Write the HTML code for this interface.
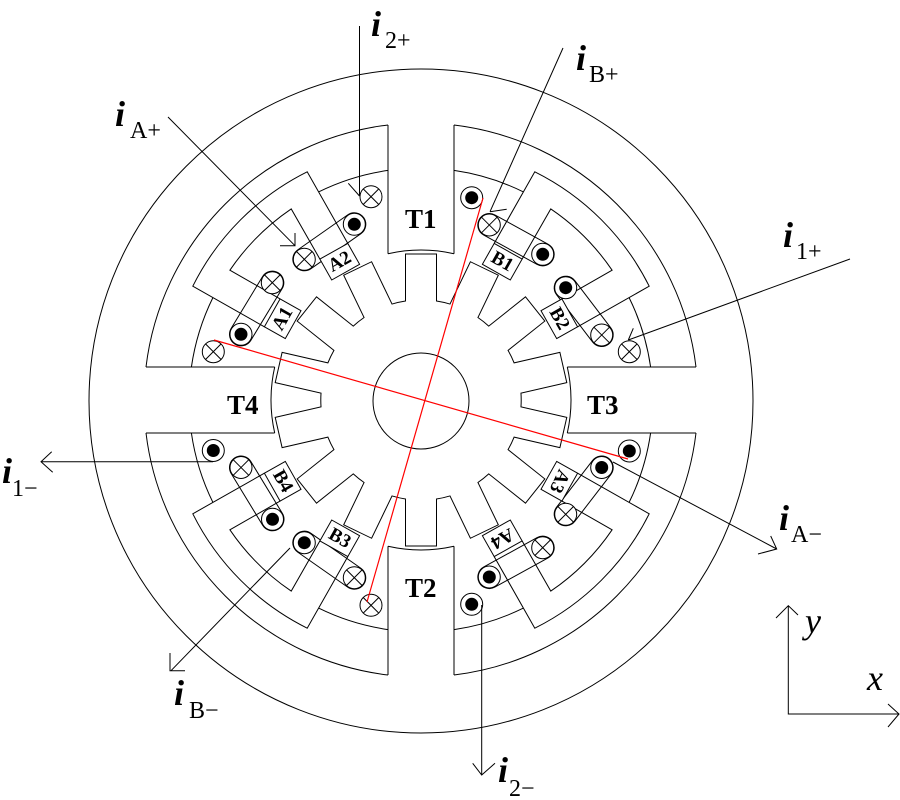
<!DOCTYPE html>
<html><head><meta charset="utf-8"><style>
html,body{margin:0;padding:0;background:#fff;}
svg{display:block;}
</style></head><body>
<svg width="900" height="800" viewBox="0 0 900 800" xmlns="http://www.w3.org/2000/svg">
<defs>
<g id="d"><circle r="11" fill="#fff" stroke="#000"/><circle r="6.5" fill="#000"/></g>
<g id="c"><circle r="11" fill="#fff" stroke="#000"/><path d="M-7.8,-7.8L7.8,7.8M-7.8,7.8L7.8,-7.8" stroke="#000"/></g>
<g id="q">
<path fill="none" d="M388,125 A277,277 0 0 0 146,367 M388,125 L388,253.7 M146,367 L274.7,367 M388,253.7 A150,150 0 0 1 454,253.7 M387.9,170.4 A232,232 0 0 0 318.6,191.9 M212.9,297.6 A232,232 0 0 0 191.4,367 M347.8,243.4 L307.2,171.8 A255,255 0 0 0 192.8,286.2 L264.4,326.8 M319.9,259.1 L291.2,208.9 A231,231 0 0 0 229.9,270.2 L280.1,298.9"/>
<polygon fill="#fff" points="319.9,259.1 347.8,243.4 359.6,264.3 331.7,280"/>
<polygon fill="#fff" points="280.1,298.9 264.4,326.8 285.3,338.6 301,310.7"/>
</g>
</defs>
<rect width="900" height="800" fill="#fff"/>
<g stroke="#000" stroke-width="1" fill="none">
<circle cx="421" cy="401" r="332"/>
<path d="M436.5,301 L436.5,254 L405.5,254 L405.5,301 A100.2,100.2 0 0 0 392.02,304.07 L371.61,261.73 L343.68,275.19 L364.08,317.52 A100.2,100.2 0 0 0 353.26,326.15 L316.51,296.85 L297.18,321.09 L333.93,350.39 A100.2,100.2 0 0 0 327.93,362.86 L282.11,352.40 L275.21,382.62 L321.03,393.08 A100.2,100.2 0 0 0 321.03,406.92 L275.21,417.38 L282.11,447.60 L327.93,437.14 A100.2,100.2 0 0 0 333.94,449.61 L297.19,478.91 L316.51,503.15 L353.26,473.85 A100.2,100.2 0 0 0 364.09,482.48 L343.69,524.82 L371.62,538.27 L392.02,495.93 A100.2,100.2 0 0 0 405.5,499 L405.5,546 L436.5,546 L436.5,499 A100.2,100.2 0 0 0 449.99,495.93 L470.39,538.27 L498.32,524.82 L477.92,482.48 A100.2,100.2 0 0 0 488.74,473.85 L525.49,503.15 L544.81,478.91 L508.06,449.61 A100.2,100.2 0 0 0 514.07,437.14 L559.89,447.60 L566.79,417.38 L520.97,406.92 A100.2,100.2 0 0 0 520.97,393.08 L566.79,382.62 L559.89,352.40 L514.07,362.86 A100.2,100.2 0 0 0 508.06,350.39 L544.81,321.09 L525.49,296.85 L488.74,326.15 A100.2,100.2 0 0 0 477.92,317.52 L498.32,275.19 L470.39,261.73 L449.99,304.07 A100.2,100.2 0 0 0 436.5,301 Z"/>
<circle cx="421" cy="401" r="48"/>
<rect x="-11.5" y="-11.5" width="84" height="23" rx="11.5" transform="translate(354.3,224.3) rotate(145)"/>
<rect x="-11.5" y="-11.5" width="83.4" height="23" rx="11.5" transform="translate(272.3,282.7) rotate(121.2)"/>
<rect x="-11.5" y="-11.5" width="83.9" height="23" rx="11.5" transform="translate(489.3,225) rotate(28.8)"/>
<rect x="-11.5" y="-11.5" width="82.4" height="23" rx="11.5" transform="translate(565.7,287.7) rotate(52.7)"/>
<rect x="-11.5" y="-11.5" width="82" height="23" rx="11.5" transform="translate(601.7,467.5) rotate(127.6)"/>
<rect x="-11.5" y="-11.5" width="83.9" height="23" rx="11.5" transform="translate(542.7,547.7) rotate(151.2)"/>
<rect x="-11.5" y="-11.5" width="83.6" height="23" rx="11.5" transform="translate(241,467.5) rotate(58.7)"/>
<rect x="-11.5" y="-11.5" width="84" height="23" rx="11.5" transform="translate(304.3,542.7) rotate(35)"/>
<use href="#q"/>
<use href="#q" transform="rotate(90 421 400)"/>
<use href="#q" transform="rotate(180 421 400)"/>
<use href="#q" transform="rotate(270 421 400)"/>
</g>
<use href="#c" x="371" y="196.7"/>
<use href="#d" x="354.3" y="224.3"/>
<use href="#c" x="304.3" y="259.3"/>
<use href="#c" x="272.3" y="282.7"/>
<use href="#d" x="241" y="334.3"/>
<use href="#c" x="213.3" y="351.7"/>
<use href="#d" x="471.7" y="197.7"/>
<use href="#c" x="489.3" y="225"/>
<use href="#d" x="542.7" y="254.3"/>
<use href="#d" x="565.7" y="287.7"/>
<use href="#c" x="601.7" y="335"/>
<use href="#c" x="629.3" y="351.7"/>
<use href="#d" x="629.3" y="451"/>
<use href="#d" x="601.7" y="467.5"/>
<use href="#c" x="565.7" y="514.3"/>
<use href="#c" x="542.7" y="547.7"/>
<use href="#d" x="489.3" y="577"/>
<use href="#d" x="471.7" y="604.3"/>
<use href="#d" x="213.3" y="450.5"/>
<use href="#c" x="241" y="467.5"/>
<use href="#d" x="272.5" y="519.3"/>
<use href="#d" x="304.3" y="542.7"/>
<use href="#c" x="354.3" y="577.7"/>
<use href="#c" x="371" y="605.3"/>
<g stroke="#000" stroke-width="1" fill="none">
<path d="M359.5,26 L359.5,196 M348.3,183.3 L359.5,196"/>
<path d="M168,117 L295,245.7 M280,245.7 L295,245.7 L295,233"/>
<path d="M563,48 L490,211.7 M490,211.7 L506.7,209.3"/>
<path d="M850,259 L628.3,340 M628.3,340 L633.3,328.3"/>
<path d="M213,461.7 L41,461.7 M51.7,451.7 L41,461.7 L52.7,472.3"/>
<path d="M613,462 L776.7,549 M770.7,536 L776.7,549 L758,554"/>
<path d="M290,548 L171,670.7 M170,653 L170,670.7 L185,670.7"/>
<path d="M481.7,605 L481.7,775 M472.7,763.3 L481.7,775 L495,763.3"/>
<path d="M788.3,605.7 L788.3,714 L899,714 M776,618 L788.3,605.7 L798,615 M888,704 L899,714 L888,727"/>
</g>
<g stroke="#f00" stroke-width="1.2">
<line x1="214" y1="340" x2="628" y2="459"/>
<line x1="483" y1="198" x2="367" y2="602"/>
</g>
<g font-family="Liberation Serif, serif" font-weight="bold" font-size="27" fill="#000">
<text x="405" y="228">T1</text>
<text x="405" y="597">T2</text>
<text x="587" y="414">T3</text>
<text x="227" y="414">T4</text>
</g>
<g font-family="Liberation Serif, serif" font-weight="bold" font-size="19" fill="#000" text-anchor="middle" dominant-baseline="central">
<text transform="translate(339.75,261.7) rotate(-29.4)">A2</text>
<text transform="translate(282.7,318.75) rotate(-60.6)">A1</text>
<text transform="translate(502.25,261.7) rotate(29.4)">B1</text>
<text transform="translate(559.3,318.75) rotate(60.6)">B2</text>
<text transform="translate(559.3,481.25) rotate(115)">A3</text>
<text transform="translate(502.25,538.3) rotate(150.6)">A4</text>
<text transform="translate(282.7,481.25) rotate(60.6)">B4</text>
<text transform="translate(339.75,538.3) rotate(29.4)">B3</text>
</g>
<g font-family="Liberation Serif, serif" fill="#000">
<g font-size="36" font-style="italic" font-weight="bold">
<text x="371" y="36">i</text>
<text x="576" y="70">i</text>
<text x="115" y="126">i</text>
<text x="783" y="247">i</text>
<text x="2" y="483">i</text>
<text x="779" y="530">i</text>
<text x="174" y="705">i</text>
<text x="498" y="782">i</text>
</g>
<g font-size="24">
<text x="385" y="48">2+</text>
<text x="589" y="82">B+</text>
<text x="130" y="138">A+</text>
<text x="796" y="259">1+</text>
<text x="12" y="496">1−</text>
<text x="791" y="542">A−</text>
<text x="189" y="718">B−</text>
<text x="509" y="796">2−</text>
</g>
<text x="805" y="633" font-size="36" font-style="italic">y</text>
<text x="867" y="690" font-size="36" font-style="italic">x</text>
</g>
</svg>
</body></html>
